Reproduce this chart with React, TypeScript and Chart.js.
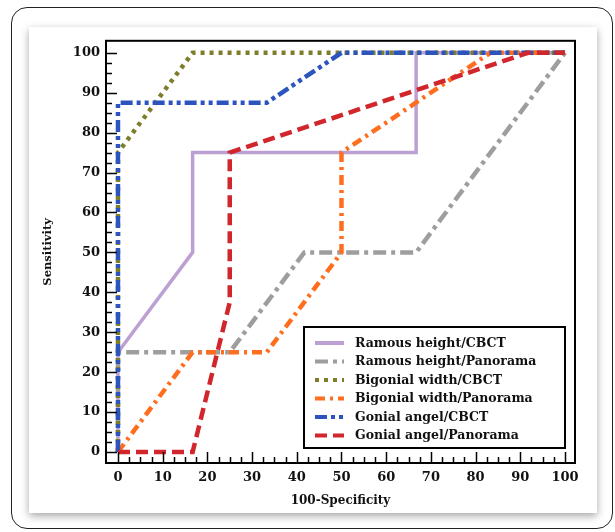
import React, { useEffect, useRef } from "react";
import { Chart, registerables } from "chart.js";

Chart.register(...registerables);

// ---- Data ----
const seriesLabels = [
  "Ramous height/CBCT",
  "Ramous height/Panorama",
  "Bigonial width/CBCT",
  "Bigonial width/Panorama",
  "Gonial angel/CBCT",
  "Gonial angel/Panorama",
];

const rhCbctX = [0, 0, 16.7, 16.7, 66.7, 66.7, 100];
const rhCbctY = [0, 25, 50, 75, 75, 100, 100];

const rhPanX = [0, 0, 25, 41.7, 66.7, 100];
const rhPanY = [0, 25, 25, 50, 50, 100];

const bwCbctX = [0, 0, 16.7, 100];
const bwCbctY = [0, 75, 100, 100];

const bwPanX = [0, 16.7, 33.3, 50, 50, 83.3, 100];
const bwPanY = [0, 25, 25, 50, 75, 100, 100];

const gaCbctX = [0, 0, 33.3, 50, 100];
const gaCbctY = [0, 87.5, 87.5, 100, 100];

const gaPanX = [0, 16.7, 25, 25, 91.7, 100];
const gaPanY = [0, 0, 37.5, 75, 100, 100];

const xTickValues = [0, 10, 20, 30, 40, 50, 60, 70, 80, 90, 100];
const yTickValues = [0, 10, 20, 30, 40, 50, 60, 70, 80, 90, 100];
const minorStep = 2.5;

const xTitle = "100-Specificity";
const yTitle = "Sensitivity";

// ---- Styles ----
const colors = ["#bc9fd3", "#9e9e9e", "#7d7d2b", "#ff6e1e", "#2c54be", "#d1262c"];
const dashes: number[][] = [
  [],
  [13, 5, 4, 5],
  [4, 5],
  [10, 5, 3, 5],
  [12, 4, 4, 4, 4, 4],
  [12, 6],
];
const widths = [3.5, 4.5, 4.5, 4.5, 4.5, 4.5];

const zip = (xs: number[], ys: number[]) => xs.map((x, i) => ({ x, y: ys[i] }));
const seriesData = [
  zip(rhCbctX, rhCbctY),
  zip(rhPanX, rhPanY),
  zip(bwCbctX, bwCbctY),
  zip(bwPanX, bwPanY),
  zip(gaCbctX, gaCbctY),
  zip(gaPanX, gaPanY),
];

const serif = "'DejaVu Serif', serif";

const framePlugin = {
  id: "frameTicks",
  afterDatasetsDraw(chart: any) {
    const { ctx, chartArea } = chart;
    const { left, top, right, bottom } = chartArea;
    const xs = chart.scales.x;
    const ys = chart.scales.y;
    ctx.save();
    ctx.strokeStyle = "#000";
    ctx.lineWidth = 1.5;
    for (let v = 0; v <= 100 + 1e-9; v += minorStep) {
      const major = Math.abs(v % 10) < 1e-6;
      const len = major ? 11 : 6;
      const px = Math.round(xs.getPixelForValue(v)) + 0.5;
      ctx.beginPath();
      ctx.moveTo(px, bottom);
      ctx.lineTo(px, bottom - len);
      ctx.stroke();
      const py = Math.round(ys.getPixelForValue(v)) + 0.5;
      ctx.beginPath();
      ctx.moveTo(left, py);
      ctx.lineTo(left + len, py);
      ctx.stroke();
    }
    ctx.lineWidth = 2;
    ctx.strokeRect(left, top, right - left, bottom - top);
    ctx.restore();
  },
  afterDraw(chart: any) {
    const { ctx, chartArea } = chart;
    const boxW = 261;
    const boxH = 121;
    const bx = chartArea.right - 10 - boxW;
    const by = chartArea.bottom - 15 - boxH;
    ctx.save();
    ctx.fillStyle = "#fff";
    ctx.fillRect(bx, by, boxW, boxH);
    ctx.strokeStyle = "#000";
    ctx.lineWidth = 2;
    ctx.strokeRect(bx, by, boxW, boxH);
    const ds = chart.data.datasets;
    ds.forEach((d: any, i: number) => {
      const cy = by + 16 + i * 18.5;
      ctx.beginPath();
      ctx.setLineDash(d.borderDash || []);
      ctx.lineCap = "butt";
      ctx.strokeStyle = d.borderColor;
      ctx.lineWidth = 4;
      ctx.moveTo(bx + 11, cy);
      ctx.lineTo(bx + 40, cy);
      ctx.stroke();
      ctx.setLineDash([]);
      ctx.fillStyle = "#111";
      ctx.font = `bold 12.5px ${serif}`;
      ctx.textBaseline = "middle";
      ctx.textAlign = "left";
      ctx.fillText(d.label, bx + 51, cy + 0.5);
    });
    ctx.restore();
  },
};

export default function App() {
  const ref = useRef<HTMLCanvasElement | null>(null);

  useEffect(() => {
    if (!ref.current) return;
    const chart = new Chart(ref.current, {
      type: "line",
      data: {
        datasets: seriesData.map((d, i) => ({
          label: seriesLabels[i],
          data: d,
          borderColor: colors[i],
          backgroundColor: colors[i],
          borderWidth: widths[i],
          borderDash: dashes[i],
          borderCapStyle: "butt",
          borderJoinStyle: "miter",
          pointRadius: 0,
          tension: 0,
          fill: false,
          order: seriesData.length - i,
        })),
      },
      options: {
        responsive: false,
        animation: false,
        layout: { padding: { left: 0, top: 13, right: 22, bottom: 0 } },
        plugins: {
          legend: { display: false },
          tooltip: { enabled: false },
        },
        scales: {
          x: {
            type: "linear",
            min: -2.68,
            max: 102.24,
            afterBuildTicks: (s: any) => {
              s.ticks = xTickValues.map((v) => ({ value: v }));
            },
            afterFit: (s: any) => {
              s.height = 50;
            },
            grid: { display: false, drawTicks: false },
            border: { display: false },
            ticks: {
              padding: 7,
              color: "#111",
              font: { family: serif, weight: "bold", size: 13 },
              maxRotation: 0,
              autoSkip: false,
            },
            title: {
              display: true,
              text: xTitle,
              color: "#111",
              font: { family: serif, weight: "bold", size: 12 },
              padding: { top: 0, bottom: 5 },
            },
          },
          y: {
            type: "linear",
            min: -2.75,
            max: 103,
            afterBuildTicks: (s: any) => {
              s.ticks = yTickValues.map((v) => ({ value: v }));
            },
            afterFit: (s: any) => {
              s.width = 77;
            },
            grid: { display: false, drawTicks: false },
            border: { display: false },
            ticks: {
              padding: 6,
              color: "#111",
              font: { family: serif, weight: "bold", size: 13 },
              autoSkip: false,
            },
            title: {
              display: true,
              text: yTitle,
              color: "#111",
              font: { family: serif, weight: "bold", size: 11.5 },
              padding: { top: 12, bottom: 0 },
            },
          },
        },
      } as any,
      plugins: [framePlugin],
    });
    return () => chart.destroy();
  }, []);

  return (
    <div
      style={{
        position: "absolute",
        left: 0,
        top: 0,
        width: 615,
        height: 532,
        background: "#fff",
        overflow: "hidden",
      }}
    >
      <div
        style={{
          position: "absolute",
          left: 11,
          top: 7,
          width: 602,
          height: 522,
          border: "1.5px solid #222",
          borderRadius: 16,
          boxSizing: "border-box",
        }}
      />
      <div
        style={{
          position: "absolute",
          left: 29,
          top: 27,
          width: 568,
          height: 486,
          background: "#fff",
          boxShadow: "0 3px 8px rgba(0,0,0,0.35)",
        }}
      >
        <canvas ref={ref} width={568} height={486} style={{ display: "block" }} />
      </div>
    </div>
  );
}
